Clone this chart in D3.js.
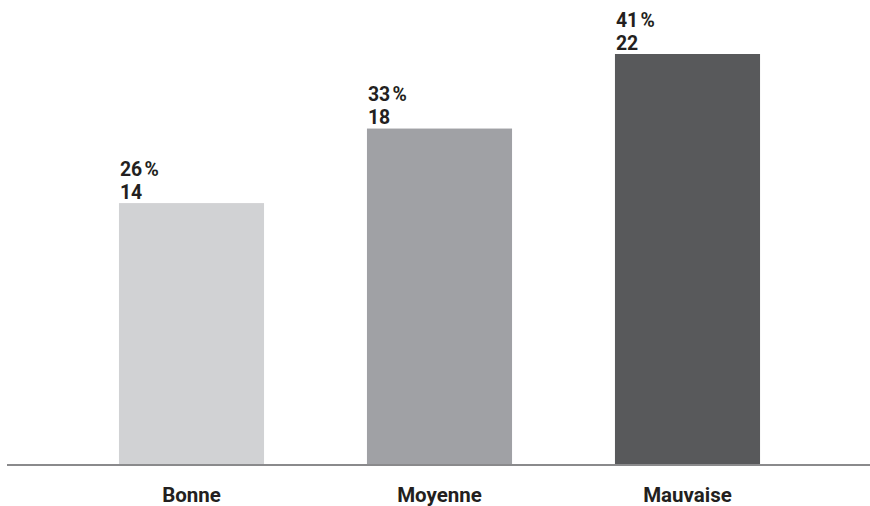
<!DOCTYPE html>
<html>
<head>
<meta charset="utf-8">
<script src="https://cdn.jsdelivr.net/npm/d3@7"></script>
<style>
  html, body { margin: 0; padding: 0; background: #fff; }
  svg { display: block; }
  text { font-family: Roboto, "Liberation Sans", sans-serif; font-weight: 700; fill: #231f20; }
</style>
</head>
<body>
<svg id="chart" width="870" height="506"></svg>
<script>
// Ratings and counts
const categories = ["Bonne", "Moyenne", "Mauvaise"];
const counts = [14, 18, 22];
const percents = ["26\u202F%", "33\u202F%", "41\u202F%"];
const colors = ["#d1d2d4", "#a0a1a5", "#58595b"];

const svg = d3.select("#chart");
const baseY = 464;

const x = d3.scaleBand()
  .domain(categories)
  .range([67.5, 811.5])
  .paddingInner(0.415)
  .paddingOuter(0.2075);

const y = d3.scaleLinear()
  .domain([0, 22])
  .range([baseY, 54]);

const data = categories.map((c, i) => ({ cat: c, n: counts[i], pct: percents[i], color: colors[i] }));

// Bars
svg.append("g").selectAll("rect")
  .data(data)
  .join("rect")
  .attr("x", d => x(d.cat))
  .attr("y", d => y(d.n))
  .attr("width", x.bandwidth())
  .attr("height", d => y(0) - y(d.n))
  .attr("fill", d => d.color);

// Baseline
svg.append("line")
  .attr("x1", 7).attr("x2", 870)
  .attr("y1", baseY + 1).attr("y2", baseY + 1)
  .attr("stroke", "#8a8a8c")
  .attr("stroke-width", 2);

// Two-line value label above each bar: percentage, then count
const labels = svg.append("g").selectAll("text")
  .data(data)
  .join("text")
  .attr("font-size", 19.4);

labels.append("tspan")
  .attr("x", d => x(d.cat) + 1)
  .attr("y", d => y(d.n) - 27.5)
  .text(d => d.pct);

labels.append("tspan")
  .attr("x", d => x(d.cat) + 1)
  .attr("y", d => y(d.n) - 4.5)
  .text(d => d.n);

// Category axis labels
svg.append("g").selectAll("text")
  .data(categories)
  .join("text")
  .attr("x", d => x(d) + x.bandwidth() / 2)
  .attr("y", 501.5)
  .attr("text-anchor", "middle")
  .attr("font-size", 20.5)
  .text(d => d);
</script>
</body>
</html>
